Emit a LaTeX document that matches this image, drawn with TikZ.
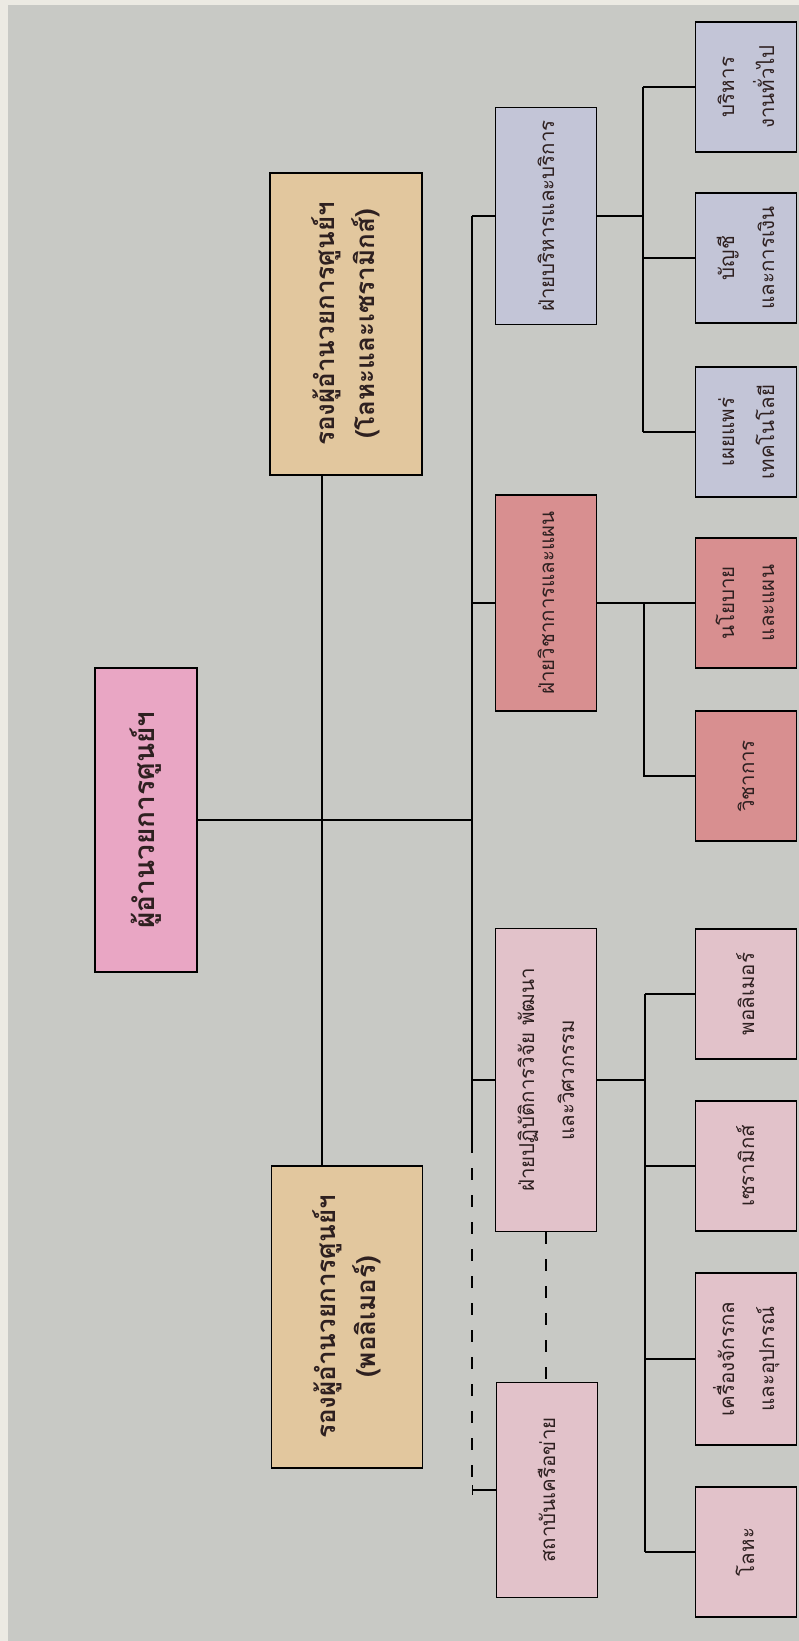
\documentclass[tikz,border=0pt]{standalone}
\usepackage{fontspec}
\usepackage{graphicx}
\newfontfamily\thaifont[Script=Thai]{Loma}
\definecolor{paper}{HTML}{ECEAE3}
\definecolor{bggray}{HTML}{C8C9C5}
\definecolor{dirpink}{HTML}{E9A6C4}
\definecolor{deptan}{HTML}{E2C79E}
\definecolor{admblue}{HTML}{C3C5D7}
\definecolor{acared}{HTML}{D88F90}
\definecolor{opspink}{HTML}{E2C2CA}
\definecolor{txtdark}{HTML}{2E2020}
\newcommand{\vlabel}[1]{\rotatebox{90}{\begin{tabular}{@{}c@{}}#1\end{tabular}}}
\begin{document}
\begin{tikzpicture}[x=1pt,y=-1pt,
    box/.style={draw=black,line width=1.3pt,inner sep=0pt,text=txtdark},
    bigbox/.style={box,font=\thaifont\bfseries\fontsize{26}{40}\selectfont},
    unitbox/.style={box,minimum width=101pt,font=\thaifont\fontsize{20.5}{40}\selectfont},
    link/.style={line width=1.3pt}]
  \fill[paper] (0,0) rectangle (799,1641);
  \fill[bggray] (8,5) rectangle (799,1641);
  \useasboundingbox (0,0) rectangle (799,1641);
  \coordinate (spine) at (472,0);
  \coordinate (depx) at (322,0);
  \coordinate (admbus) at (643,0);
  \coordinate (acabus) at (644,0);
  \coordinate (opsbus) at (645,0);
  \coordinate (spinemid) at (472,1141);
  % director and deputies
  \node[bigbox,fill=dirpink,minimum width=102pt,minimum height=304pt,font=\thaifont\bfseries\fontsize{28}{40}\selectfont] (dir) at (146,820) {\vlabel{ผู้อำนวยการศูนย์ฯ}};
  \node[bigbox,fill=deptan,minimum width=152pt,minimum height=302pt] (depmc) at (346,324) {\vlabel{รองผู้อำนวยการศูนย์ฯ\\(โลหะและเซรามิกส์)}};
  \node[bigbox,fill=deptan,minimum width=151pt,minimum height=302pt] (deppo) at (347,1317) {\vlabel{รองผู้อำนวยการศูนย์ฯ\\(พอลิเมอร์)}};
  % departments
  \node[unitbox,fill=admblue,minimum height=217pt] (adm) at (546,216) {\vlabel{ฝ่ายบริหารและบริการ}};
  \node[unitbox,fill=acared,minimum height=216pt] (aca) at (546,603) {\vlabel{ฝ่ายวิชาการและแผน}};
  \node[unitbox,fill=opspink,minimum height=303pt] (ops) at (546,1080) {\vlabel{ฝ่ายปฏิบัติการวิจัย พัฒนา\\และวิศวกรรม}};
  \node[unitbox,fill=opspink,minimum height=215pt] (net) at (547,1490) {\vlabel{สถาบันเครือข่าย}};
  % units
  \node[unitbox,fill=admblue,minimum height=130pt] (admgen) at (746,87) {\vlabel{บริหาร\\งานทั่วไป}};
  \node[unitbox,fill=admblue,minimum height=130pt] (admfin) at (746,258) {\vlabel{บัญชี\\และการเงิน}};
  \node[unitbox,fill=admblue,minimum height=130pt] (admpub) at (746,432) {\vlabel{เผยแพร่\\เทคโนโลยี}};
  \node[unitbox,fill=acared,minimum height=130pt] (acapol) at (746,603) {\vlabel{นโยบาย\\และแผน}};
  \node[unitbox,fill=acared,minimum height=130pt] (acaaca) at (746,776) {\vlabel{วิชาการ}};
  \node[unitbox,fill=opspink,minimum height=130pt] (opspol) at (746,994) {\vlabel{พอลิเมอร์}};
  \node[unitbox,fill=opspink,minimum height=130pt] (opscer) at (746,1166) {\vlabel{เซรามิกส์}};
  \node[unitbox,fill=opspink,minimum height=172pt] (opsmac) at (746,1359) {\vlabel{เครื่องจักรกล\\และอุปกรณ์}};
  \node[unitbox,fill=opspink,minimum height=130pt] (opsmet) at (746,1552) {\vlabel{โลหะ}};
  \begin{scope}[link]
    \draw (dir.east) -- (dir.east -| spine);
    \draw (depmc.south -| depx) -- (deppo.north -| depx);
    \draw (adm.west -| spine) -- (spinemid);
    \draw (adm.west) -- (adm.west -| spine);
    \draw (aca.west) -- (aca.west -| spine);
    \draw (ops.west) -- (ops.west -| spine);
    \draw[dash pattern=on 12pt off 15pt] (spinemid) -- (net.west -| spine);
    \draw[|-] (net.west -| spine) -- (net.west);
    \draw[dash pattern=on 12pt off 15pt] (ops.south) -- (ops.south |- net.north);
    \draw (adm.east) -- (adm.east -| admbus);
    \draw (admgen.west -| admbus) -- (admpub.west -| admbus);
    \draw (admgen.west) -- (admgen.west -| admbus);
    \draw (admfin.west) -- (admfin.west -| admbus);
    \draw (admpub.west) -- (admpub.west -| admbus);
    \draw (aca.east) -- (acapol.west);
    \draw (aca.east -| acabus) |- (acaaca.west);
    \draw (ops.east) -- (ops.east -| opsbus);
    \draw (opspol.west -| opsbus) -- (opsmet.west -| opsbus);
    \draw (opspol.west) -- (opspol.west -| opsbus);
    \draw (opscer.west) -- (opscer.west -| opsbus);
    \draw (opsmac.west) -- (opsmac.west -| opsbus);
    \draw (opsmet.west) -- (opsmet.west -| opsbus);
  \end{scope}
\end{tikzpicture}
\end{document}
